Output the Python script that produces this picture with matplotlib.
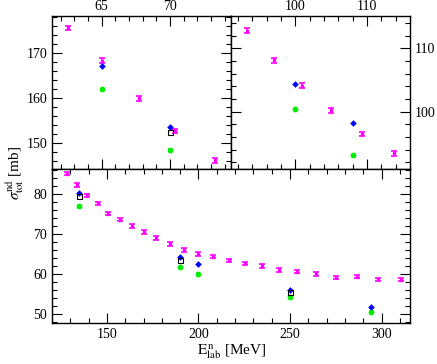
import numpy as np
import matplotlib
matplotlib.use("Agg")
import matplotlib.pyplot as plt
from matplotlib.ticker import MultipleLocator

plt.rcParams["font.family"] = ["Liberation Serif", "DejaVu Serif"]
plt.rcParams["mathtext.fontset"] = "stix"

# ---- data
# measured n-d total cross section (magenta, with errors)
e_exp = [62.5, 65.0, 67.7, 70.4, 73.3,
         93.2, 97.0, 100.9, 105.0, 109.3, 113.8,
         128.0, 133.5, 139.3, 145.0, 150.8, 157.2, 163.6, 170.0, 177.0,
         184.2, 191.9, 199.8, 208.0, 216.4, 225.3, 234.6, 244.2, 254.0,
         264.4, 275.1, 286.5, 297.8, 310.4]
sig_exp = [175.5, 168.3, 159.9, 152.7, 146.1,
           112.8, 108.1, 104.1, 100.2, 96.5, 93.4,
           85.0, 82.2, 79.6, 77.6, 75.1, 73.6, 72.0, 70.5, 69.0,
           67.5, 66.0, 65.0, 64.3, 63.4, 62.7, 62.0, 61.0, 60.6,
           60.0, 59.2, 59.3, 58.7, 58.6]
err_exp = [0.5] * 5 + [0.35] * 6 + [0.4] * 23

# calculations
e_blue = [65, 70, 100, 108, 135, 190, 200, 250, 294]
sig_blue = [167.2, 153.6, 104.4, 98.15, 80.2, 64.2, 62.4, 56.1, 51.9]
e_green = [65, 70, 100, 108, 135, 190, 200, 250, 294]
sig_green = [162.0, 148.5, 100.46, 93.1, 77.0, 61.8, 60.1, 54.3, 50.5]
e_sq = [70, 135, 190, 250]
sig_sq = [152.4, 79.5, 63.5, 55.5]

W, H = 437, 364
fig = plt.figure(figsize=(W / 100, H / 100), dpi=100)

def box(l, t, r, b):
    return [l / W, 1 - b / H, (r - l) / W, (b - t) / H]

ax_tl = fig.add_axes(box(52, 16, 231, 169))
ax_tr = fig.add_axes(box(231, 16, 410, 169))
ax_b = fig.add_axes(box(52, 169, 410, 323))

def draw(ax):
    ax.errorbar(e_exp, sig_exp, yerr=err_exp, fmt="s", color="#ff00ff",
                ms=1.6, elinewidth=1.2, capsize=2.4, capthick=1.2, zorder=3)
    ax.plot(e_green, sig_green, "o", color="#00ee00", ms=4.2, mec="none", zorder=4)
    ax.plot(e_blue, sig_blue, "D", color="#0000ff", ms=3.4, mec="none", zorder=5)
    ax.plot(e_sq, sig_sq, "s", mfc="none", mec="black", ms=3.6, mew=0.8, zorder=6)

for ax in (ax_tl, ax_tr, ax_b):
    draw(ax)
    ax.tick_params(which="both", direction="in", top=True, bottom=True,
                   left=True, right=True, labelsize=10, width=0.8)
    ax.tick_params(which="major", length=7)
    ax.tick_params(which="minor", length=3.5)
    for s in ax.spines.values():
        s.set_linewidth(1.0)

ax_tl.set_xlim(61.36, 74.47)
ax_tl.set_ylim(144.2, 178.2)
ax_tl.xaxis.set_major_locator(MultipleLocator(5))
ax_tl.xaxis.set_minor_locator(MultipleLocator(1))
ax_tl.yaxis.set_major_locator(MultipleLocator(10))
ax_tl.yaxis.set_minor_locator(MultipleLocator(2))
ax_tl.tick_params(labeltop=True, labelbottom=False)
ax_tl.tick_params(axis="x", pad=2)

ax_tr.set_xlim(91.0, 116.0)
ax_tr.set_ylim(90.95, 115.1)
ax_tr.xaxis.set_major_locator(MultipleLocator(10))
ax_tr.xaxis.set_minor_locator(MultipleLocator(2))
ax_tr.yaxis.set_major_locator(MultipleLocator(10))
ax_tr.yaxis.set_minor_locator(MultipleLocator(2))
ax_tr.tick_params(labeltop=True, labelbottom=False, labelleft=False, labelright=True)
ax_tr.tick_params(axis="x", pad=2)

ax_b.set_xlim(120, 315.5)
ax_b.set_ylim(47.8, 86.2)
ax_b.xaxis.set_major_locator(MultipleLocator(50))
ax_b.xaxis.set_minor_locator(MultipleLocator(10))
ax_b.yaxis.set_major_locator(MultipleLocator(10))
ax_b.yaxis.set_minor_locator(MultipleLocator(2))

fig.text(0.034, 0.525, r"$\sigma^{\mathrm{nd}}_{\mathrm{tot}}$ [mb]", rotation=90,
         ha="center", va="center", fontsize=11)
fig.text(0.53, 0.035, r"$\mathrm{E}^{\,\mathrm{n}}_{\mathrm{lab}}$ [MeV]",
         ha="center", va="center", fontsize=11)

fig.savefig("out.png", dpi=100)
